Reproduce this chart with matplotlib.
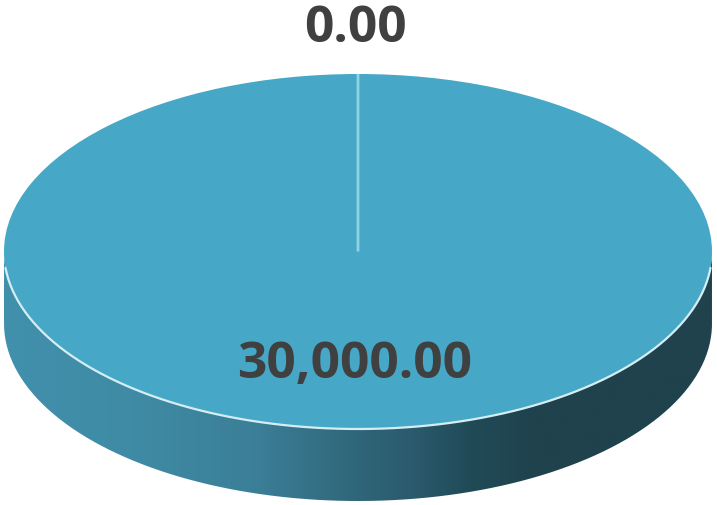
import numpy as np
import matplotlib
matplotlib.use("Agg")
import matplotlib.pyplot as plt
from matplotlib.colors import LinearSegmentedColormap
from matplotlib.patches import PathPatch
from matplotlib.path import Path

values = [30000.00, 0.00]
labels = ["30,000.00", "0.00"]
top_color = "#46a8c6"
line_color = "#8fd3e4"
rim_color = "#d5eef4"
text_color = "#404040"
wall_stops = [0.0, 0.18, 0.36, 0.5, 0.58, 0.66, 0.75, 1.0]
wall_colors = ["#4190ac", "#3f8ba5", "#3b7e97", "#2f6679", "#2a5a6c", "#214a57", "#1f434e", "#1f424d"]

W, H = 717, 505
cx, cy, rx, ry, depth = 358, 251.5, 354, 177.5, 72

plt.rcParams["font.family"] = ["Open Sans", "DejaVu Sans"]
fig = plt.figure(figsize=(W / 100, H / 100), dpi=100)
ax = fig.add_axes([0, 0, 1, 1])

# side wall of the disc, a gradient clipped to the band under the lower rim
d = depth / ry
t = np.linspace(np.pi, 2 * np.pi, 200)
xs = np.r_[np.cos(t), np.cos(t[::-1])]
ys = np.r_[np.sin(t), np.sin(t[::-1]) - d]
cmap = LinearSegmentedColormap.from_list("wall", list(zip(wall_stops, wall_colors)))
img = ax.imshow(np.linspace(0, 1, 512).reshape(1, -1), cmap=cmap, aspect="auto",
                extent=(-1, 1, -1 - d, 0), zorder=1)
band = PathPatch(Path(np.c_[xs, ys]), transform=ax.transData, fc="none", ec="none")
ax.add_patch(band)
img.set_clip_path(band)

# top face
wedges, _ = ax.pie(values, startangle=90, counterclock=False, colors=[top_color, top_color],
                   radius=1, wedgeprops={"linewidth": 0})
wedges[0].set_zorder(2)
wedges[1].set_zorder(3)
wedges[1].set_edgecolor(line_color)
wedges[1].set_linewidth(2)

# light rim only where the top face meets the wall
ax.plot(np.cos(t[6:-6]), np.sin(t[6:-6]), color=rim_color, lw=1.6, zorder=4)

ax.set_aspect("auto")
ax.set_xlim(-cx / rx, (W - cx) / rx)
ax.set_ylim((cy - H) / ry, cy / ry)
ax.axis("off")

ax.text(-0.01, (cy - 365.5) / ry, labels[0], ha="center", va="center", fontsize=37,
        fontweight="bold", color=text_color, zorder=5)
ax.text(-0.008, (cy - 29) / ry, labels[1], ha="center", va="center", fontsize=37,
        fontweight="bold", color=text_color, zorder=5)

fig.savefig("out.png", dpi=100)
